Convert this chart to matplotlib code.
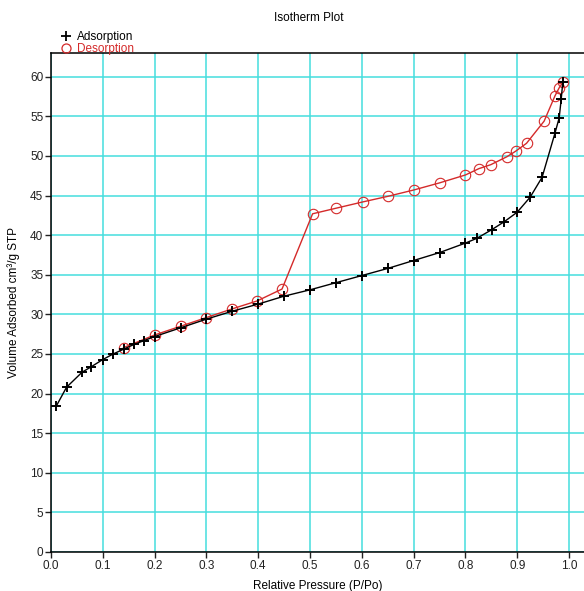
import matplotlib
matplotlib.use("Agg")
import matplotlib.pyplot as plt
from matplotlib.lines import Line2D

plt.rcParams['font.family'] = ['Liberation Sans', 'DejaVu Sans']

# adsorption branch
ads_p = [0.01, 0.03, 0.06, 0.078, 0.10, 0.12, 0.14, 0.16, 0.18, 0.20, 0.25, 0.30,
         0.35, 0.40, 0.45, 0.50, 0.55, 0.60, 0.65, 0.70, 0.75, 0.80, 0.822, 0.851,
         0.875, 0.90, 0.925, 0.948, 0.973, 0.981, 0.985, 0.988]
ads_v = [18.4, 20.8, 22.7, 23.4, 24.3, 25.0, 25.6, 26.2, 26.7, 27.2, 28.3, 29.4,
         30.4, 31.3, 32.3, 33.1, 34.0, 34.9, 35.8, 36.8, 37.8, 39.0, 39.6, 40.7,
         41.7, 42.9, 44.8, 47.3, 52.9, 54.8, 57.2, 59.3]

# desorption branch
des_p = [0.988, 0.981, 0.973, 0.952, 0.918, 0.897, 0.880, 0.849, 0.826, 0.80, 0.75,
         0.70, 0.65, 0.602, 0.55, 0.505, 0.446, 0.398, 0.35, 0.30, 0.25, 0.20, 0.14]
des_v = [59.3, 58.6, 57.6, 54.4, 51.6, 50.6, 49.9, 48.9, 48.4, 47.6, 46.6,
         45.7, 44.9, 44.2, 43.4, 42.7, 33.2, 31.7, 30.7, 29.6, 28.5, 27.4, 25.8]

fig = plt.figure(figsize=(5.84, 5.91), dpi=100)
ax = fig.add_axes([51 / 584, 1 - 552 / 591, 1 - 51 / 584, (552 - 53) / 591])

grid_col = '#45dede'
ax.set_axisbelow(True)
ax.grid(True, color=grid_col, lw=1.1)

ax.plot(des_p, des_v, color='#d42a2a', lw=1.0, marker='o', ms=7.5, mfc='none',
        mec='#d42a2a', mew=0.8)
ax.plot(ads_p, ads_v, color='black', lw=1.0, marker='+', ms=7, mew=1.4)

ax.set_xlim(0, (584 - 51) / 518)
ax.set_ylim(0, 63)
ax.set_xticks([0.0, 0.1, 0.2, 0.3, 0.4, 0.5, 0.6, 0.7, 0.8, 0.9, 1.0])
ax.set_xticklabels(['0.0', '0.1', '0.2', '0.3', '0.4', '0.5', '0.6', '0.7', '0.8', '0.9', '1.0'])
ax.set_yticks(range(0, 61, 5))
ax.tick_params(direction='out', length=4, width=1, labelsize=8.5, pad=1.5, colors='#222222')
ax.spines['right'].set_visible(False)
for s in ['left', 'bottom', 'top']:
    ax.spines[s].set_linewidth(1.1)

fig.text(309 / 584, 1 - 18 / 591, 'Isotherm Plot', ha='center', va='center', fontsize=8.5)
fig.text(318 / 584, 1 - 586 / 591, 'Relative Pressure (P/Po)', ha='center', va='center', fontsize=8.5)
fig.text(14 / 584, 1 - 302 / 591, 'Volume Adsorbed cm³/g STP', ha='center', va='center',
         rotation=90, fontsize=8.5)

handles = [Line2D([], [], ls='none', marker='+', color='black', ms=7, mew=1.3),
           Line2D([], [], ls='none', marker='o', color='#d42a2a', mfc='none', ms=6.5, mew=0.9)]
fig.legend(handles, ['Adsorption', 'Desorption'], loc='upper left',
           bbox_to_anchor=(56 / 584, 1 - 25 / 591), frameon=False, fontsize=8.5,
           handlelength=0.7, handletextpad=0.6, labelspacing=0.05, borderpad=0,
           labelcolor=['black', '#d42a2a'])

fig.savefig('out.png', dpi=100)
